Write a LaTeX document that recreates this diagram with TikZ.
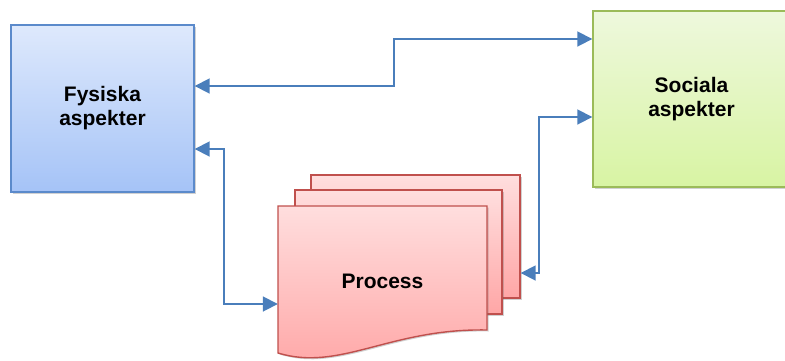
\documentclass[tikz,border=0pt]{standalone}
\usepackage{fontspec}
\setmainfont{Liberation Sans}
\usetikzlibrary{positioning}
\usetikzlibrary{arrows.meta}
\usetikzlibrary{shadows}
\definecolor{bline}{HTML}{5B8ACB}
\definecolor{btop}{HTML}{DEE9FC}
\definecolor{bbot}{HTML}{A5C3F7}
\definecolor{gline}{HTML}{9BBB59}
\definecolor{gtop}{HTML}{EEF8DD}
\definecolor{gbot}{HTML}{D8F4A3}
\definecolor{rline}{HTML}{C0504D}
\definecolor{rtop}{HTML}{FFDEDE}
\definecolor{rbot}{HTML}{FFA6A6}
\definecolor{aline}{HTML}{4A7EBB}
\tikzset{
    softshadow/.style = {drop shadow={shadow xshift=1.5pt,shadow yshift=-1.5pt,opacity=0.3,fill=black!60}},
    boxb/.style = {rectangle, line width=1.4pt, draw=bline, top color=btop, bottom color=bbot, align=center, softshadow},
    boxg/.style = {rectangle, line width=1.4pt, draw=gline, top color=gtop, bottom color=gbot, align=center, softshadow},
    pager/.style = {rectangle, line width=1.4pt, draw=rline, top color=rtop, bottom color=rbot, softshadow},
    edgeb/.style = {{Triangle[length=15pt,width=15pt]}-{Triangle[length=15pt,width=15pt]}, line width=1.8pt, draw=aline},
    every picture/.style={font issue=\bfseries},
    font issue/.style={execute at begin picture={#1\fontsize{21}{24}\selectfont}
  }
}

\begin{document}
\begin{tikzpicture}[x=1pt,y=-1pt]
  \useasboundingbox (0,0) rectangle (785,360);

  \node[boxb, minimum width=183pt, minimum height=167pt] at (102.5,108.5) (fys) {Fysiska\\aspekter};
  \node[boxg, minimum width=197pt, minimum height=176pt] at (691.5,99) (soc) {Sociala\\aspekter};

  \node[pager, minimum width=209pt, minimum height=123pt] at (415.5,236.5) (back) {};
  \node[pager, minimum width=207pt, minimum height=124pt] at (398.5,252) (mid) {};
  \draw[pager] (278,206) -- (487,206) -- (487,330)
    .. controls (390,328) and (340,372) .. (278,353) -- cycle;
  \node[minimum width=209pt, minimum height=134pt] at (382.5,281) (proc) {Process};

  \draw[edgeb] ([yshift=22.5pt]fys.east) -- ++(199,0) |- ([yshift=60pt]soc.west);
  \draw[edgeb] ([yshift=-40.5pt]fys.east) -- ++(29,0) |- ([yshift=-23pt]proc.west);
  \draw[edgeb] ([yshift=-18pt]soc.west) -- ++(-53,0) |- ([yshift=-36.5pt]back.east);

\end{tikzpicture}
\end{document}
